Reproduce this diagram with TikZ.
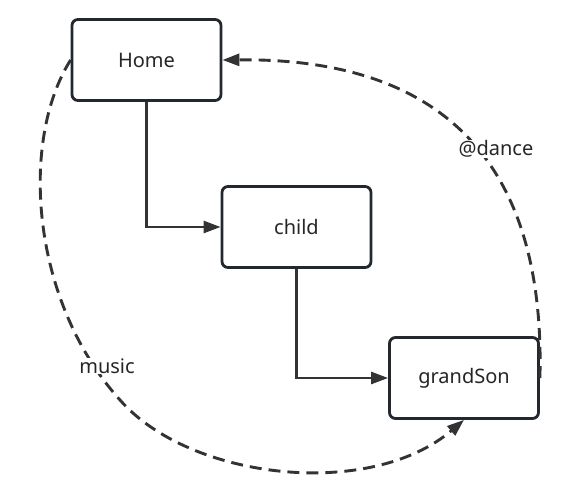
\documentclass[tikz,border=0pt]{standalone}
\usepackage{fontspec}
\setmainfont{Noto Sans}
\usetikzlibrary{arrows.meta}
\definecolor{edge}{HTML}{23272E}
\definecolor{linec}{HTML}{333333}
\begin{document}
\begin{tikzpicture}[x=1pt,y=-1pt,
  box/.style={draw=edge,line width=2.8pt,rounded corners=6pt,fill=white,minimum width=149pt,minimum height=81pt,inner sep=0pt,font=\fontsize{20}{22}\selectfont,text=black!85},
  conn/.style={draw=linec,line width=2.6pt,-{Triangle[length=17pt,width=12pt]}},
  dconn/.style={conn,line width=2.9pt,dash pattern=on 12pt off 7pt},
  lbl/.style={fill=white,inner sep=1pt,font=\fontsize{20}{22}\selectfont,text=black!85}]
\useasboundingbox (0,0) rectangle (584,494);
\node[box] (home) at (146.5,60) {Home};
\node[box] (child) at (296.5,227) {child};
\node[box] (gs) at (464,378) {grandSon};
\draw[conn] (home.south) |- (child.west);
\draw[conn] (child.south) |- (gs.west);
\coordinate (m1) at (120,400);
\draw[dconn] (home.west) .. controls (20,140) and (30,300) .. (m1)
  .. controls (190,480) and (370,500) .. (gs.south);
\draw[dconn] (gs.east) .. controls (546,145) and (425,58) .. (home.east);
\node[lbl] (music) at (107,366) {music};
\node[lbl] (dance) at (496,149) {@dance};
\end{tikzpicture}
\end{document}
